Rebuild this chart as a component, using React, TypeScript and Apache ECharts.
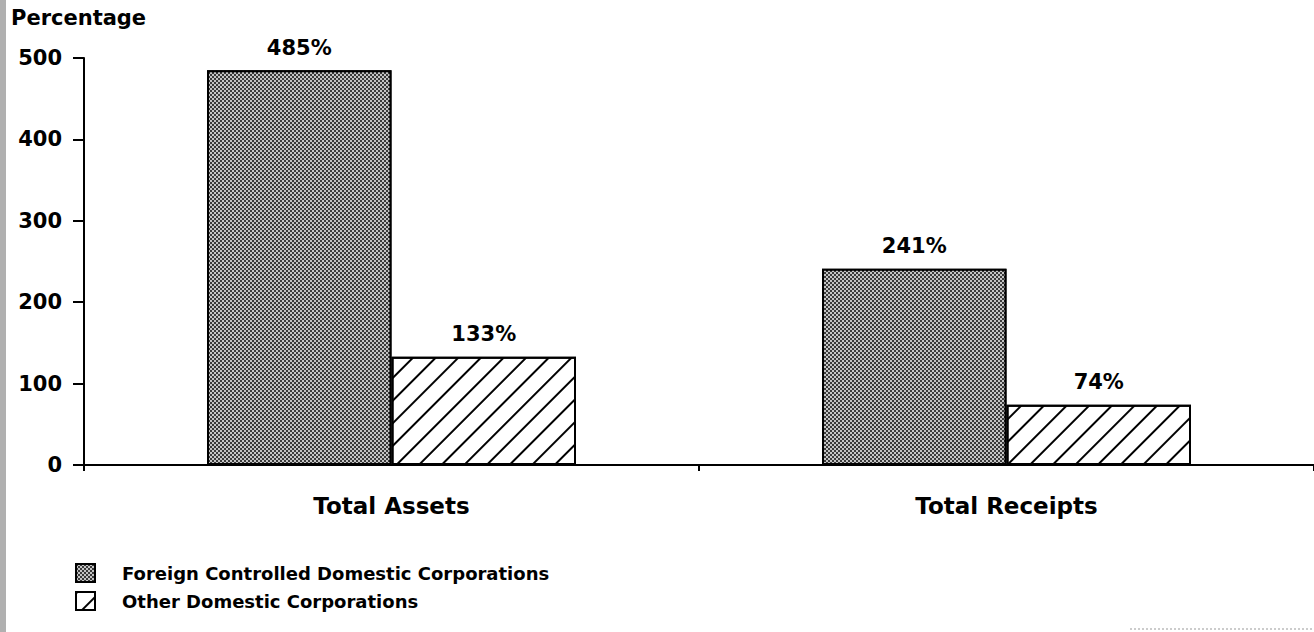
import React, { useEffect, useRef } from "react";
import * as echarts from "echarts";

const categories = ["Total Assets", "Total Receipts"];
const foreignValues = [485, 241];
const otherValues = [133, 74];
const seriesNames = ["Foreign Controlled Domestic Corporations", "Other Domestic Corporations"];
const yTicks = { min: 0, max: 500, interval: 100 };

const FONT = "'DejaVu Sans', 'Liberation Sans', Arial, sans-serif";

export default function App() {
  const ref = useRef<HTMLDivElement>(null);
  useEffect(() => {
    if (!ref.current) return;
    const chart = echarts.init(ref.current, null, { renderer: "svg" });
    const labelStyle = {
      show: true,
      position: "top" as const,
      distance: 12,
      fontFamily: FONT,
      fontWeight: "bold" as const,
      fontSize: 21,
      color: "#000",
      formatter: (p: any) => p.value + "%",
    };
    chart.setOption({
      animation: false,
      backgroundColor: "#fff",
      textStyle: { fontFamily: FONT },
      grid: { left: 84, right: 0, top: 58, bottom: 167, containLabel: false },
      graphic: [
        {
          type: "rect",
          left: 0,
          top: 0,
          shape: { width: 6, height: 632 },
          style: { fill: "#b0b0b0" },
          silent: true,
        },
        {
          type: "line",
          shape: { x1: 1130, y1: 629, x2: 1314, y2: 629 },
          style: { stroke: "#999", lineWidth: 1, lineDash: [2, 2] },
          silent: true,
        },
        {
          type: "text",
          left: 11,
          top: 7,
          style: {
            text: "Percentage",
            fontFamily: FONT,
            fontWeight: "bold",
            fontSize: 21,
            fill: "#000",
          },
        },
      ],
      legend: {
        orient: "vertical",
        left: 75,
        top: 563,
        padding: 0,
        itemWidth: 19,
        itemHeight: 18,
        itemGap: 8,
        icon: "rect",
        textStyle: {
          fontFamily: FONT,
          fontWeight: "bold",
          fontSize: 18,
          lineHeight: 20,
          color: "#000",
          padding: [0, 0, 0, 22],
        },
        data: seriesNames,
      },
      xAxis: {
        type: "category",
        data: categories,
        axisLine: { lineStyle: { color: "#000", width: 2 } },
        axisTick: { show: true, length: 6, lineStyle: { color: "#000", width: 2 } },
        axisLabel: {
          margin: 29,
          fontFamily: FONT,
          fontWeight: "bold",
          fontSize: 23,
          color: "#000",
        },
      },
      yAxis: {
        type: "value",
        min: yTicks.min,
        max: yTicks.max,
        interval: yTicks.interval,
        splitLine: { show: false },
        axisLine: { show: true, lineStyle: { color: "#000", width: 2 } },
        axisTick: { show: true, length: 11, lineStyle: { color: "#000", width: 2 } },
        axisLabel: {
          margin: 22,
          fontFamily: FONT,
          fontWeight: "bold",
          fontSize: 21,
          color: "#000",
        },
      },
      series: [
        {
          name: seriesNames[0],
          type: "bar",
          data: foreignValues,
          barGap: "0%",
          barCategoryGap: "40%",
          itemStyle: {
            color: "#3a3a3a",
            borderColor: "#000",
            borderWidth: 2,
            decal: {
              symbol: "rect",
              color: "rgba(255,255,255,0.7)",
              symbolSize: 1,
              dashArrayX: [[2, 2], [0, 2, 2, 0]],
              dashArrayY: [2, 0],
              rotation: 0,
            },
          },
          label: labelStyle,
        },
        {
          name: seriesNames[1],
          type: "bar",
          data: otherValues,
          itemStyle: {
            color: "#fff",
            borderColor: "#000",
            borderWidth: 2,
            decal: {
              symbol: "rect",
              color: "#000",
              symbolSize: 1,
              dashArrayX: [1, 0],
              dashArrayY: [1.5, 13.5],
              rotation: -Math.PI / 4,
            },
          },
          label: labelStyle,
        },
      ],
    });
    return () => chart.dispose();
  }, []);
  return (
    <div
      ref={ref}
      style={{ position: "absolute", left: 0, top: 0, width: 1314, height: 632 }}
    />
  );
}
